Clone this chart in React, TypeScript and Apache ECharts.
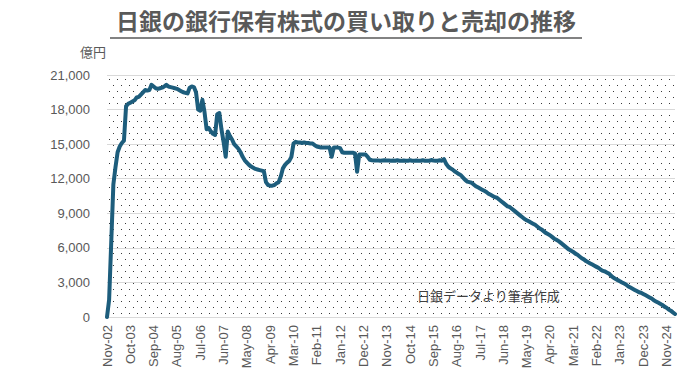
import React, { useEffect, useRef } from "react";
import * as echarts from "echarts";

// Monthly holdings (億円), Nov-02 .. Mar-25
const holdings: number[] = [
  0, 1500, 6500, 11500, 13000, 14300, 14800, 15100, 15300, 18300, 18500, 18600,
  18700, 18800, 19050, 19100, 19300, 19500, 19700, 19650, 19700, 20150, 20000, 19850,
  19800, 19850, 19900, 20000, 20150, 20000, 19950, 19900, 19850, 19800, 19700, 19600,
  19500, 19450, 19400, 19900, 20000, 19950, 19500, 18000, 17900, 18850, 17800, 16300,
  16400, 16100, 15900, 15800, 17600, 17700, 16300, 15200, 13900, 16100, 15700, 15400,
  15000, 14800, 14600, 14300, 13900, 13600, 13400, 13200, 13050, 12950, 12850, 12800,
  12750, 12700, 12650, 11700, 11450, 11400, 11400, 11450, 11600, 11700, 12200, 12900,
  13200, 13400, 13550, 13900, 15050, 15200, 15150, 15150, 15100, 15150, 15100, 15100,
  15050, 15050, 14900, 14800, 14750, 14700, 14700, 14700, 14700, 14700, 13900, 14700,
  14700, 14700, 14650, 14300, 14250, 14250, 14250, 14250, 14250, 14200, 12600, 14100,
  14100, 14100, 14100, 13900, 13650, 13600, 13580, 13580, 13580, 13560, 13580, 13600,
  13580, 13580, 13560, 13580, 13560, 13600, 13560, 13560, 13580, 13560, 13560, 13600,
  13560, 13560, 13580, 13560, 13560, 13600, 13560, 13560, 13560, 13620, 13580, 13560,
  13560, 13600, 13560, 13700, 13300, 13050, 12900, 12800, 12650, 12530, 12400, 12300,
  12100, 11900, 11750, 11700, 11650, 11500, 11350, 11250, 11150, 11050, 10950, 10850,
  10700, 10600, 10500, 10400, 10350, 10200, 10050, 9900, 9750, 9600, 9550, 9400,
  9250, 9100, 8950, 8800, 8650, 8500, 8400, 8300, 8200, 8100, 8000, 7850,
  7700, 7600, 7450, 7300, 7200, 7100, 6950, 6800, 6700, 6600, 6450, 6300,
  6150, 6000, 5850, 5750, 5650, 5500, 5400, 5250, 5100, 5000, 4850, 4750,
  4650, 4550, 4450, 4350, 4250, 4100, 4000, 3950, 3850, 3750, 3550, 3400,
  3300, 3200, 3100, 3000, 2900, 2800, 2650, 2550, 2450, 2350, 2250, 2150,
  2100, 2000, 1900, 1800, 1700, 1600, 1450, 1350, 1250, 1150, 1050, 900,
  800, 650, 550, 400, 260,
];

const monthNames = ["Jan", "Feb", "Mar", "Apr", "May", "Jun", "Jul", "Aug", "Sep", "Oct", "Nov", "Dec"];
const startYear = 2002;
const startMonth = 10; // Nov
const categories: string[] = holdings.map((_, i) => {
  const m = startMonth + i;
  const y = startYear + Math.floor(m / 12);
  return `${monthNames[m % 12]}-${String(y % 100).padStart(2, "0")}`;
});

const yMin = 0;
const yMax = 21000;
const yStep = 3000;

const titleText = "日銀の銀行保有株式の買い取りと売却の推移";
const unitText = "億円";
const sourceText = "日銀データより筆者作成";

function makeDotTile(): HTMLCanvasElement {
  const c = document.createElement("canvas");
  c.width = 8;
  c.height = 12;
  const ctx = c.getContext("2d")!;
  ctx.fillStyle = "#ffffff";
  ctx.fillRect(0, 0, 8, 12);
  ctx.fillStyle = "#3a3a3a";
  ctx.fillRect(1, 1, 1, 1);
  ctx.fillRect(5, 7, 1, 1);
  return c;
}

export default function App() {
  const ref = useRef<HTMLDivElement>(null);
  useEffect(() => {
    document.body.style.margin = "0";
    if (!ref.current) return;
    const chart = echarts.init(ref.current, null, { renderer: "svg" });
    const tile = makeDotTile();
    const font = "'Liberation Sans', 'Noto Sans CJK JP', sans-serif";
    chart.setOption({
      animation: false,
      backgroundColor: "#ffffff",
      textStyle: { fontFamily: font },
      grid: {
        left: 107,
        right: 14,
        top: 75,
        bottom: 61,
        show: true,
        borderWidth: 0,
        backgroundColor: {
          image: tile.toDataURL(),
          repeat: "repeat",
          imageWidth: 8,
          imageHeight: 12,
        } as any,
      },
      graphic: [
        {
          type: "text",
          x: 346,
          y: 22,
          style: {
            text: titleText,
            fill: "#595959",
            font: `bold 23px ${font}`,
            textAlign: "center",
            textVerticalAlign: "middle",
          },
        },
        {
          type: "line",
          shape: { x1: 110, y1: 38, x2: 582, y2: 38 },
          style: { stroke: "#595959", lineWidth: 1.5 },
        },
        {
          type: "text",
          x: 80,
          y: 52,
          style: {
            text: unitText,
            fill: "#595959",
            font: `13px ${font}`,
            textAlign: "left",
            textVerticalAlign: "middle",
          },
        },
        {
          type: "text",
          x: 417,
          y: 296,
          z: 10,
          style: {
            text: sourceText,
            fill: "#404040",
            font: `13px ${font}`,
            textAlign: "left",
            textVerticalAlign: "middle",
          },
        },
      ],
      xAxis: {
        type: "category",
        data: categories,
        boundaryGap: false,
        axisTick: { show: false },
        axisLine: { lineStyle: { color: "#d9d9d9", width: 1 } },
        axisLabel: {
          interval: 10,
          rotate: 90,
          color: "#595959",
          fontSize: 13,
          margin: 8,
          fontFamily: font,
        },
        splitLine: { show: false },
      },
      yAxis: {
        type: "value",
        min: yMin,
        max: yMax,
        interval: yStep,
        axisLine: { show: false },
        axisTick: { show: false },
        axisLabel: { color: "#595959", fontSize: 13, margin: 17, fontFamily: font },
        splitLine: { lineStyle: { color: "#d9d9d9", width: 1 } },
      },
      series: [
        {
          type: "line",
          data: holdings,
          showSymbol: false,
          symbol: "none",
          lineStyle: { color: "#1d5d7c", width: 4, join: "round", cap: "round" },
        },
      ],
    });
    return () => chart.dispose();
  }, []);
  return <div ref={ref} style={{ width: 689, height: 378 }} />;
}
